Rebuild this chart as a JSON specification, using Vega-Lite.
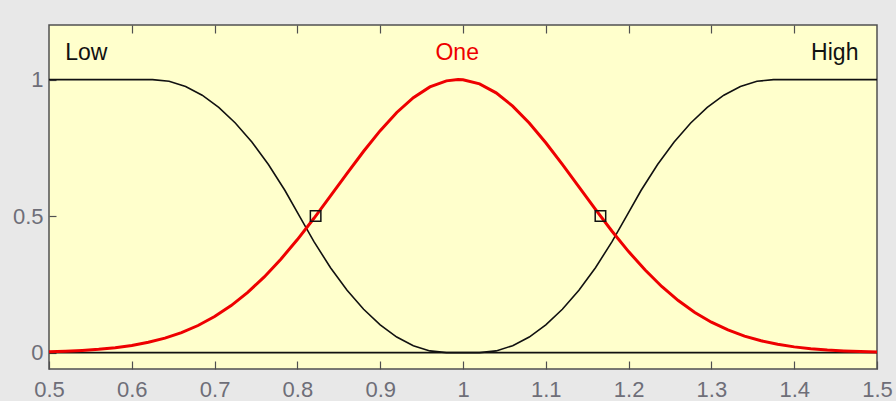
{
  "$schema": "https://vega.github.io/schema/vega-lite/v6.json",
  "width": 828,
  "height": 344,
  "autosize": "none",
  "padding": {"left": 49, "top": 25, "right": 19, "bottom": 32},
  "background": "#E8E8E8",
  "config": {
    "view": {"fill": "#FFFFCC", "stroke": "#505050", "strokeWidth": 1.5},
    "font": "Liberation Sans",
    "axis": {
      "grid": false,
      "domain": false,
      "tickColor": "#505050",
      "tickWidth": 1.2,
      "labelFont": "Liberation Sans",
      "labelFontSize": 22,
      "labelColor": "#6E6E78",
      "title": null
    }
  },
  "resolve": {"axis": {"x": "independent"}},
  "datasets": {
    "mfs": [
      {"mf": "Low", "x": 0.5, "y": 1},
      {"mf": "Low", "x": 0.625, "y": 1},
      {"mf": "Low", "x": 0.645, "y": 0.9937},
      {"mf": "Low", "x": 0.665, "y": 0.9746},
      {"mf": "Low", "x": 0.685, "y": 0.9429},
      {"mf": "Low", "x": 0.705, "y": 0.8984},
      {"mf": "Low", "x": 0.725, "y": 0.8413},
      {"mf": "Low", "x": 0.745, "y": 0.7715},
      {"mf": "Low", "x": 0.765, "y": 0.6889},
      {"mf": "Low", "x": 0.785, "y": 0.5937},
      {"mf": "Low", "x": 0.8025, "y": 0.5},
      {"mf": "Low", "x": 0.82, "y": 0.4063},
      {"mf": "Low", "x": 0.84, "y": 0.3111},
      {"mf": "Low", "x": 0.86, "y": 0.2285},
      {"mf": "Low", "x": 0.88, "y": 0.1587},
      {"mf": "Low", "x": 0.9, "y": 0.1016},
      {"mf": "Low", "x": 0.92, "y": 0.0571},
      {"mf": "Low", "x": 0.94, "y": 0.0254},
      {"mf": "Low", "x": 0.96, "y": 0.0063},
      {"mf": "Low", "x": 0.98, "y": 0},
      {"mf": "Low", "x": 1.5, "y": 0},
      {"mf": "High", "x": 0.5, "y": 0},
      {"mf": "High", "x": 1.02, "y": 0},
      {"mf": "High", "x": 1.04, "y": 0.0063},
      {"mf": "High", "x": 1.06, "y": 0.0254},
      {"mf": "High", "x": 1.08, "y": 0.0571},
      {"mf": "High", "x": 1.1, "y": 0.1016},
      {"mf": "High", "x": 1.12, "y": 0.1587},
      {"mf": "High", "x": 1.14, "y": 0.2285},
      {"mf": "High", "x": 1.16, "y": 0.3111},
      {"mf": "High", "x": 1.18, "y": 0.4063},
      {"mf": "High", "x": 1.1975, "y": 0.5},
      {"mf": "High", "x": 1.215, "y": 0.5937},
      {"mf": "High", "x": 1.235, "y": 0.6889},
      {"mf": "High", "x": 1.255, "y": 0.7715},
      {"mf": "High", "x": 1.275, "y": 0.8413},
      {"mf": "High", "x": 1.295, "y": 0.8984},
      {"mf": "High", "x": 1.315, "y": 0.9429},
      {"mf": "High", "x": 1.335, "y": 0.9746},
      {"mf": "High", "x": 1.355, "y": 0.9937},
      {"mf": "High", "x": 1.375, "y": 1},
      {"mf": "High", "x": 1.5, "y": 1},
      {"mf": "One", "x": 0.5, "y": 0.0033},
      {"mf": "One", "x": 0.52, "y": 0.0052},
      {"mf": "One", "x": 0.54, "y": 0.008},
      {"mf": "One", "x": 0.56, "y": 0.0121},
      {"mf": "One", "x": 0.58, "y": 0.018},
      {"mf": "One", "x": 0.6, "y": 0.0263},
      {"mf": "One", "x": 0.62, "y": 0.0378},
      {"mf": "One", "x": 0.64, "y": 0.0531},
      {"mf": "One", "x": 0.66, "y": 0.0733},
      {"mf": "One", "x": 0.68, "y": 0.0993},
      {"mf": "One", "x": 0.7, "y": 0.132},
      {"mf": "One", "x": 0.72, "y": 0.1723},
      {"mf": "One", "x": 0.74, "y": 0.2206},
      {"mf": "One", "x": 0.76, "y": 0.2773},
      {"mf": "One", "x": 0.78, "y": 0.3421},
      {"mf": "One", "x": 0.8, "y": 0.4141},
      {"mf": "One", "x": 0.82, "y": 0.492},
      {"mf": "One", "x": 0.84, "y": 0.5738},
      {"mf": "One", "x": 0.86, "y": 0.6567},
      {"mf": "One", "x": 0.88, "y": 0.7375},
      {"mf": "One", "x": 0.9, "y": 0.813},
      {"mf": "One", "x": 0.92, "y": 0.8796},
      {"mf": "One", "x": 0.94, "y": 0.934},
      {"mf": "One", "x": 0.96, "y": 0.9733},
      {"mf": "One", "x": 0.98, "y": 0.9954},
      {"mf": "One", "x": 0.994, "y": 1},
      {"mf": "One", "x": 1.0, "y": 0.9992},
      {"mf": "One", "x": 1.02, "y": 0.9843},
      {"mf": "One", "x": 1.04, "y": 0.9516},
      {"mf": "One", "x": 1.06, "y": 0.903},
      {"mf": "One", "x": 1.08, "y": 0.8409},
      {"mf": "One", "x": 1.1, "y": 0.7686},
      {"mf": "One", "x": 1.12, "y": 0.6894},
      {"mf": "One", "x": 1.14, "y": 0.6069},
      {"mf": "One", "x": 1.16, "y": 0.5244},
      {"mf": "One", "x": 1.18, "y": 0.4447},
      {"mf": "One", "x": 1.2, "y": 0.3701},
      {"mf": "One", "x": 1.22, "y": 0.3023},
      {"mf": "One", "x": 1.24, "y": 0.2423},
      {"mf": "One", "x": 1.26, "y": 0.1906},
      {"mf": "One", "x": 1.28, "y": 0.1472},
      {"mf": "One", "x": 1.3, "y": 0.1115},
      {"mf": "One", "x": 1.32, "y": 0.083},
      {"mf": "One", "x": 1.34, "y": 0.0606},
      {"mf": "One", "x": 1.36, "y": 0.0434},
      {"mf": "One", "x": 1.38, "y": 0.0305},
      {"mf": "One", "x": 1.4, "y": 0.021},
      {"mf": "One", "x": 1.42, "y": 0.0143},
      {"mf": "One", "x": 1.44, "y": 0.0095},
      {"mf": "One", "x": 1.46, "y": 0.0062},
      {"mf": "One", "x": 1.48, "y": 0.004},
      {"mf": "One", "x": 1.5, "y": 0.0025}
    ],
    "labels": [
      {"mf": "Low", "x": 0.545, "y": 1.073},
      {"mf": "One", "x": 0.993, "y": 1.073},
      {"mf": "High", "x": 1.449, "y": 1.073}
    ],
    "markers": [
      {"x": 0.822, "y": 0.5},
      {"x": 1.166, "y": 0.5}
    ]
  },
  "layer": [
    {
      "data": {"name": "mfs"},
      "transform": [{"filter": "datum.mf !== 'One'"}],
      "mark": {"type": "line", "strokeWidth": 1.6, "interpolate": "linear"},
      "encoding": {
        "x": {
          "field": "x", "type": "quantitative",
          "scale": {"domain": [0.5, 1.5], "nice": false, "zero": false},
          "axis": {
            "orient": "bottom",
            "values": [0.5, 0.6, 0.7, 0.8, 0.9, 1, 1.1, 1.2, 1.3, 1.4, 1.5],
            "format": ".1~f",
            "tickSize": -8,
            "labelPadding": 18,
            "labelFlush": false,
            "labelOverlap": false
          }
        },
        "y": {
          "field": "y", "type": "quantitative",
          "scale": {"domain": [-0.06, 1.2], "nice": false, "zero": false},
          "axis": {
            "orient": "left",
            "values": [0, 0.5, 1],
            "format": ".1~f",
            "tickSize": -7,
            "labelPadding": 13,
            "labelFlush": false,
            "labelOverlap": false
          }
        },
        "detail": {"field": "mf"},
        "color": {
          "field": "mf", "type": "nominal",
          "scale": {"domain": ["Low", "One", "High"], "range": ["#111111", "#EE0000", "#111111"]},
          "legend": null
        }
      }
    },
    {
      "data": {"name": "mfs"},
      "transform": [{"filter": "datum.mf === 'One'"}],
      "mark": {"type": "line", "strokeWidth": 3, "interpolate": "linear"},
      "encoding": {
        "x": {"field": "x", "type": "quantitative", "axis": null},
        "y": {"field": "y", "type": "quantitative"},
        "color": {"field": "mf", "type": "nominal", "legend": null}
      }
    },
    {
      "data": {"name": "markers"},
      "mark": {"type": "point", "shape": "square", "filled": false, "stroke": "#111111", "strokeWidth": 1.5, "size": 110, "opacity": 1},
      "encoding": {
        "x": {
          "field": "x", "type": "quantitative",
          "axis": {
            "orient": "top",
            "values": [0.6, 0.7, 0.8, 0.9, 1, 1.1, 1.2, 1.3, 1.4],
            "labels": false,
            "tickSize": -8
          }
        },
        "y": {"field": "y", "type": "quantitative"}
      }
    },
    {
      "data": {"name": "labels"},
      "mark": {"type": "text", "font": "Liberation Sans", "fontSize": 23, "align": "center", "baseline": "alphabetic"},
      "encoding": {
        "x": {"field": "x", "type": "quantitative", "axis": null},
        "y": {"field": "y", "type": "quantitative"},
        "text": {"field": "mf"},
        "color": {"field": "mf", "type": "nominal", "legend": null}
      }
    }
  ]
}
